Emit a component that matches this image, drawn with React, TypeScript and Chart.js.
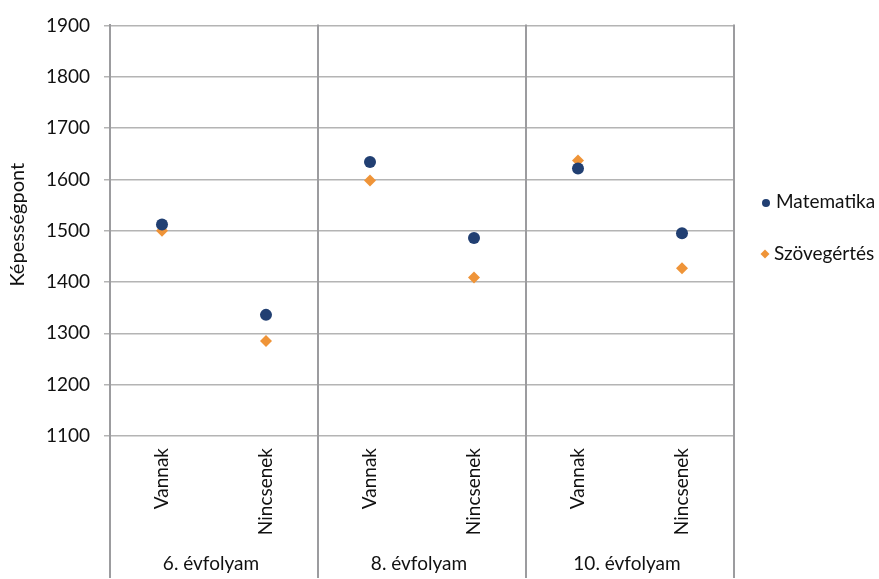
import React, { useEffect, useRef } from "react";
import { Chart, registerables } from "chart.js";

Chart.register(...registerables);

const groups = ["6. évfolyam", "8. évfolyam", "10. évfolyam"];
const subLabels = ["Vannak", "Nincsenek"];
const categories = groups.flatMap((g) => subLabels.map((s) => s));
const matematika = [1512, 1336, 1634, 1486, 1621, 1495];
const szovegertes = [1500, 1285, 1598, 1409, 1637, 1427];
const yTicks = [1100, 1200, 1300, 1400, 1500, 1600, 1700, 1800, 1900];
const seriesNames = ["Matematika", "Szövegértés"];
const yTitle = "Képességpont";

const FONT = "Lato, 'DejaVu Sans', sans-serif";
const NAVY = "#213f72";
const ORANGE = "#ef9438";
const SEP = "#9c9c9f";
const GRID = "#b4b4b4";

const overlay = {
  id: "overlay",
  afterDraw(chart: any) {
    const ctx = chart.ctx;
    const x = chart.scales.x;
    const area = chart.chartArea;
    const bottom = chart.height - 1;
    ctx.save();
    ctx.strokeStyle = SEP;
    ctx.lineWidth = 2;
    const n = subLabels.length;
    const bounds = [x.getPixelForValue(-0.5)];
    groups.forEach((_, gi) => bounds.push(x.getPixelForValue(gi * n + n - 0.5)));
    bounds.forEach((px: number) => {
      ctx.beginPath();
      ctx.moveTo(Math.round(px), area.top - 1);
      ctx.lineTo(Math.round(px), bottom);
      ctx.stroke();
    });
    ctx.fillStyle = "#111";
    ctx.font = `19px ${FONT}`;
    ctx.textAlign = "center";
    ctx.textBaseline = "middle";
    groups.forEach((g, gi) => {
      const c = x.getPixelForValue(gi * n + (n - 1) / 2);
      ctx.fillText(g, c - 3, 564);
    });
    // y title
    ctx.save();
    ctx.translate(18, (area.top + area.bottom) / 2 - 6);
    ctx.rotate(-Math.PI / 2);
    ctx.font = `20px ${FONT}`;
    ctx.fillText(yTitle, 0, 0);
    ctx.restore();
    // legend
    const items = chart.data.datasets;
    const lx = area.right + 31;
    const ly = [202, 254];
    items.forEach((ds: any, i: number) => {
      const y = ly[i];
      ctx.fillStyle = ds.backgroundColor;
      ctx.beginPath();
      if (ds.pointStyle === "rectRot") {
        const r = 4.5;
        ctx.moveTo(lx, y - r);
        ctx.lineTo(lx + r, y);
        ctx.lineTo(lx, y + r);
        ctx.lineTo(lx - r, y);
        ctx.closePath();
      } else {
        ctx.arc(lx + 1, y + 1, 4, 0, Math.PI * 2);
      }
      ctx.fill();
      ctx.fillStyle = "#111";
      ctx.font = `19px ${FONT}`;
      ctx.textAlign = "left";
      ctx.fillText(ds.label, lx + (i === 0 ? 11 : 9), y);
    });
    ctx.restore();
  },
};

export default function App() {
  const ref = useRef<HTMLCanvasElement>(null);
  useEffect(() => {
    const chart = new Chart(ref.current!, {
      type: "line",
      data: {
        labels: categories,
        datasets: [
          {
            label: seriesNames[0],
            data: matematika,
            showLine: false,
            pointStyle: "circle",
            pointRadius: 6,
            backgroundColor: NAVY,
            borderColor: NAVY,
            borderWidth: 0,
          },
          {
            label: seriesNames[1],
            data: szovegertes,
            showLine: false,
            pointStyle: "rectRot",
            pointRadius: 6,
            backgroundColor: ORANGE,
            borderColor: ORANGE,
            borderWidth: 0,
          },
        ],
      },
      options: {
        animation: false,
        responsive: true,
        maintainAspectRatio: false,
        layout: { padding: { left: 0, top: 20, right: 145, bottom: 0 } },
        plugins: { legend: { display: false }, tooltip: { enabled: false } },
        scales: {
          x: {
            type: "category",
            offset: true,
            grid: { display: false, drawTicks: false },
            border: { display: false },
            ticks: {
              minRotation: 90,
              maxRotation: 90,
              padding: 12,
              color: "#111",
              font: { family: FONT, size: 19 },
            },
            afterFit(s: any) {
              s.height = 143;
            },
          },
          y: {
            min: yTicks[0],
            max: yTicks[yTicks.length - 1],
            afterBuildTicks(s: any) {
              s.ticks = yTicks.map((v) => ({ value: v }));
            },
            grid: { color: GRID, lineWidth: 1.5, tickLength: 6, drawTicks: true },
            border: { color: SEP, width: 2 },
            ticks: {
              padding: 14,
              color: "#111",
              font: { family: FONT, size: 19 },
              callback: (v: any) => String(v),
            },
            afterFit(s: any) {
              s.width = 110;
            },
          },
        },
      },
      plugins: [overlay],
    });
    return () => chart.destroy();
  }, []);
  return (
    <div style={{ position: "absolute", left: 0, top: 0, width: 879, height: 579 }}>
      <canvas ref={ref} />
    </div>
  );
}
